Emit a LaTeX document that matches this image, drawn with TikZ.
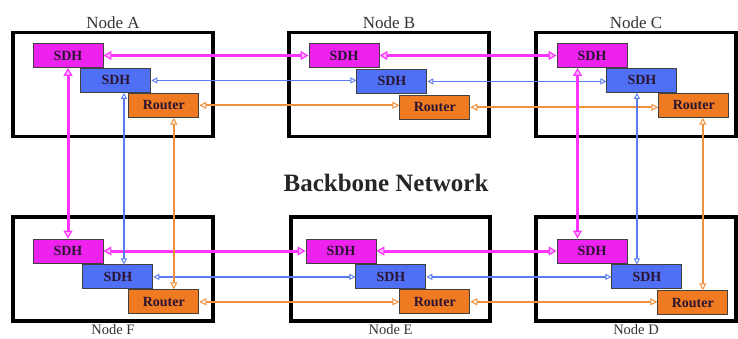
\documentclass[tikz,border=0pt]{standalone}
\usepackage{fontspec}
\setmainfont{Liberation Serif}
\usepackage{tikz}
\usetikzlibrary{positioning,arrows.meta}

\definecolor{magfill}{HTML}{EE22EE}
\definecolor{magline}{HTML}{FF33FF}
\definecolor{bluefill}{HTML}{4F6FF5}
\definecolor{blueline}{HTML}{5A7AF0}
\definecolor{orgfill}{HTML}{F07A22}
\definecolor{orgline}{HTML}{F0903C}
\definecolor{inktext}{HTML}{2A1430}

\begin{document}
\begin{tikzpicture}[x=1pt, y=-1pt,
    site/.style={%
      rectangle, draw=black, line width=3.5pt, fill=white,
      minimum width=200pt, minimum height=104pt, inner sep=0pt
    },
    unit/.style={%
      rectangle, draw=black!75, line width=0.9pt, text=inktext,
      minimum width=70pt, minimum height=24pt, inner sep=0pt,
      font=\fontsize{14}{16}\selectfont\bfseries
    },
    sdh/.style={unit, fill=magfill},
    sdhx/.style={unit, fill=bluefill},
    rt/.style={unit, fill=orgfill},
    lbl/.style={inner sep=1pt, font=\fontsize{17}{20}\selectfont, text=black!80},
    lblb/.style={lbl, inner sep=0pt, font=\fontsize{14.5}{17}\selectfont},
    pink/.style={draw=magline, line width=3pt,
      {Triangle[fill=magline!35, line width=1.2pt, length=8pt, width=9pt]}-{Triangle[fill=magline!35, line width=1.2pt, length=8pt, width=9pt]}},
    azure/.style={draw=blueline, line width=1.4pt,
      {Triangle[fill=white, line width=0.9pt, length=6pt, width=6pt]}-{Triangle[fill=white, line width=0.9pt, length=6pt, width=6pt]}},
    amber/.style={draw=orgline, line width=2pt,
      {Triangle[fill=white, line width=1pt, length=7pt, width=7pt]}-{Triangle[fill=white, line width=1pt, length=7pt, width=7pt]}}
]
    \useasboundingbox (0,0) rectangle (738,339);

    % sites
    \node[site] (boxA) at (113,84.5)  {};
    \node[site] (boxB) at (389,84.5)  {};
    \node[site] (boxC) at (636,84.5)  {};
    \node[site] (boxF) at (113,269)   {};
    \node[site, minimum width=199pt] (boxE) at (390.5,269) {};
    \node[site] (boxD) at (636,269)   {};

    \node[lbl, above=1pt of boxA] {Node A};
    \node[lbl, above=1pt of boxB] {Node B};
    \node[lbl, above=1pt of boxC] {Node C};
    \node[lblb, below=1pt of boxF] {Node F};
    \node[lblb, below=1pt of boxE] {Node E};
    \node[lblb, below=1pt of boxD] {Node D};

    % equipment
    \node[sdh]  (sdhA) at (68,55.5)  {SDH};
    \node[sdhx] (blueA) [below right=0pt and -23pt of sdhA]  {SDH};
    \node[rt]   (rtA)   [below right=0pt and -23pt of blueA] {Router};

    \node[sdh]  (sdhB) at (344,55.5) {SDH};
    \node[sdhx] (blueB) [below right=1pt and -23pt of sdhB]  {SDH};
    \node[rt]   (rtB)   [below right=1pt and -28pt of blueB] {Router};

    \node[sdh]  (sdhC) at (592,55.5) {SDH};
    \node[sdhx] (blueC) [below right=0pt and -21pt of sdhC]  {SDH};
    \node[rt]   (rtC)   [below right=0pt and -19pt of blueC] {Router};

    \node[sdh]  (sdhF) at (68,251)   {SDH};
    \node[sdhx] (blueF) [below right=1pt and -21pt of sdhF]  {SDH};
    \node[rt]   (rtF)   [below right=0pt and -25pt of blueF] {Router};

    \node[sdh]  (sdhE) at (341,251)  {SDH};
    \node[sdhx] (blueE) [below right=1pt and -21pt of sdhE]  {SDH};
    \node[rt]   (rtE)   [below right=0pt and -27pt of blueE] {Router};

    \node[sdh]  (sdhD) at (592,251)  {SDH};
    \node[sdhx] (blueD) [below right=1pt and -16pt of sdhD]  {SDH};
    \node[rt]   (rtD)   [below right=1pt and -25pt of blueD] {Router};

    \node[font=\fontsize{25}{28}\selectfont\bfseries, text=black!85] (bb) at (386,183) {Backbone Network};

    % links along the rows
    \draw[pink]  (sdhA) -- (sdhB);
    \draw[pink]  (sdhB) -- (sdhC);
    \draw[pink]  (sdhF) -- (sdhE);
    \draw[pink]  (sdhE) -- (sdhD);
    \draw[azure] (blueA.east) -- (blueA.east -| blueB.west);
    \draw[azure] (blueB.east) -- (blueB.east -| blueC.west);
    \draw[azure] (blueF.east) -- (blueF.east -| blueE.west);
    \draw[azure] (blueE.east) -- (blueE.east -| blueD.west);
    \draw[amber] (rtA.east) -- (rtA.east -| rtB.west);
    \draw[amber] (rtB.east) -- (rtB.east -| rtC.west);
    \draw[amber] (rtF.east) -- (rtF.east -| rtE.west);
    \draw[amber] (rtE.east) -- (rtE.east -| rtD.west);

    % links down the columns
    \draw[pink]  (sdhA) -- (sdhF);
    \draw[azure] ([xshift=8pt]blueA.south) -- ([xshift=8pt]blueA.south |- blueF.north);
    \draw[amber] ([xshift=10pt]rtA.south) -- ([xshift=10pt]rtA.south |- rtF.north);
    \draw[pink]  ([xshift=-14.5pt]sdhC.south) -- ([xshift=-14.5pt]sdhC.south |- sdhD.north);
    \draw[azure] ([xshift=-5pt]blueC.south) -- ([xshift=-5pt]blueC.south |- blueD.north);
    \draw[amber] ([xshift=9pt]rtC.south) -- ([xshift=9pt]rtC.south |- rtD.north);

\end{tikzpicture}
\end{document}
